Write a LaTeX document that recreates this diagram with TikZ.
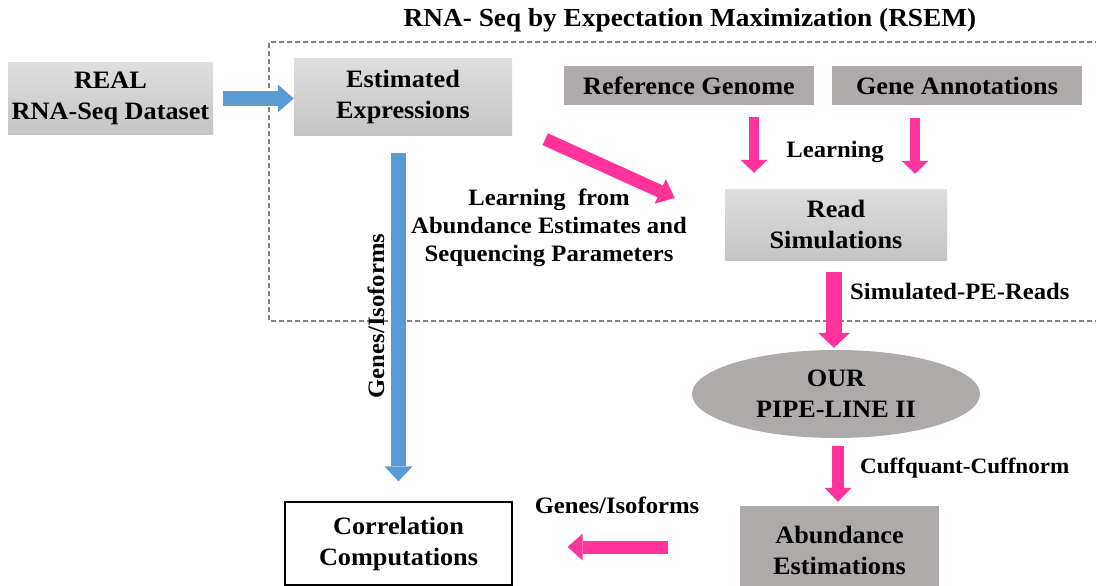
\documentclass[tikz,border=0pt]{standalone}
\usepackage{fontspec}
\setmainfont[FakeStretch=1.05]{Liberation Serif}
\usetikzlibrary{arrows.meta,shapes.geometric,calc}

\definecolor{lightTop}{RGB}{222,222,222}
\definecolor{lightBot}{RGB}{196,196,196}
\definecolor{darkBox}{RGB}{174,170,170}
\definecolor{flowBlue}{RGB}{91,155,213}
\definecolor{flowPink}{RGB}{255,51,153}
\definecolor{dashGray}{RGB}{128,128,128}

\tikzset{
  boxtext/.style={font=\fontsize{25}{31}\selectfont\bfseries, align=center, inner sep=0pt},
  lbl/.style={font=\fontsize{23.5}{28}\selectfont\bfseries, align=center, inner sep=0pt},
  softbox/.style={boxtext, top color=lightTop, bottom color=lightBot, draw=none},
  darkbox/.style={boxtext, fill=darkBox, draw=none},
  fatarrow/.style n args={4}{draw=#1, line width=#2,
    -{Triangle[width=#3, length=#4, line width=0pt]}},
}

\begin{document}
\begin{tikzpicture}[x=1pt, y=-1pt]
\useasboundingbox (0,0) rectangle (1096,586);

% RSEM frame (open on the right) and its heading
\draw[dashGray, line width=1.4pt, dash pattern=on 5pt off 3pt]
  (1100,42) -- (269,42) -- (269,321) -- (1100,321);
\node[font=\fontsize{26}{30}\selectfont\bfseries, inner sep=0pt] (title) at (690,20)
  {RNA- Seq by Expectation Maximization (RSEM)};

% boxes
\node[softbox, minimum width=205pt, minimum height=71pt] (real) at (110.5,98.5)
  {REAL\\RNA-Seq Dataset};
\node[softbox, minimum width=218pt, minimum height=76pt] (est) at (403,97)
  {Estimated\\Expressions};
\node[darkbox, minimum width=250pt, minimum height=39pt] (ref) at (689,85.5)
  {Reference Genome};
\node[darkbox, minimum width=250pt, minimum height=39pt] (gene) at (957,85.5)
  {Gene Annotations};
\node[softbox, minimum width=222pt, minimum height=71pt] (read) at (836,224.5)
  {Read\\Simulations};
\node[ellipse, fill=darkBox, boxtext, minimum width=288pt, minimum height=88pt] (pipe)
  at (836,394) {OUR\\PIPE-LINE II};
\node[darkbox, minimum width=199pt, minimum height=88pt] (abund) at (839.5,550)
  {Abundance\\Estimations};
\node[boxtext, draw=black, line width=1.3pt, fill=white,
  minimum width=227pt, minimum height=83pt] (corr) at (398.5,543.5)
  {Correlation\\Computations};

% labels
\node[lbl] (learnTop) at (835,152) {Learning};
\node[lbl] (learnFrom) at (549,228)
  {Learning~ from\\Abundance Estimates and\\Sequencing Parameters};
\node[lbl, anchor=west] (simReads) at (850,291) {Simulated-PE-Reads};
\node[lbl, font=\fontsize{22}{26}\selectfont\bfseries, anchor=west] (cuff) at (860,468)
  {Cuffquant-Cuffnorm};
\node[lbl] (genesLow) at (617,505) {Genes/Isoforms};
\node[lbl, rotate=90] (genesVert) at (376,316) {Genes/Isoforms};

% blue connectors
\draw[fatarrow={flowBlue}{15pt}{28pt}{16pt}]
  ([xshift=10pt]real.east) -- (real.east -| est.west);
\draw[fatarrow={flowBlue}{15pt}{28pt}{15pt}]
  ($(corr.north |- est.south)+(0,18)$) -- ($(corr.north)+(0,-20)$);

% pink connectors
\draw[fatarrow={flowPink}{13pt}{27pt}{16pt}]
  ($(est.south east)+(33,4)$) -- ($(read.west)+(-50,-26.5)$);
\draw[fatarrow={flowPink}{10pt}{27pt}{13pt}]
  ($(ref.south)+(65,12)$) -- ($(read.north)+(-82,-16)$);
\draw[fatarrow={flowPink}{10pt}{27pt}{13pt}]
  ($(gene.south)+(-42,13)$) -- ($(read.north)+(79,-15)$);
\draw[fatarrow={flowPink}{16pt}{32pt}{15pt}]
  ($(read.south)+(-2,12)$) -- ($(pipe.north)+(-2,-2)$);
\draw[fatarrow={flowPink}{12pt}{27pt}{14pt}]
  ($(pipe.south)+(2,8)$) -- ($(abund.north)+(-1.5,-4)$);
\draw[fatarrow={flowPink}{13pt}{27pt}{15pt}]
  ($(corr.east)+(155,3.5)$) -- ($(corr.east)+(55,3.5)$);
\end{tikzpicture}
\end{document}
